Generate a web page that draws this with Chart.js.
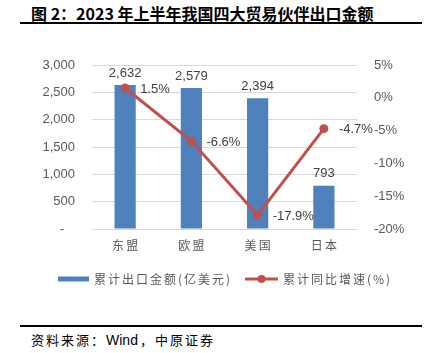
<!DOCTYPE html>
<html lang="zh">
<head>
  <meta charset="UTF-8" />
  <title>2023年上半年我国四大贸易伙伴出口金额</title>
  <script src="https://cdn.jsdelivr.net/npm/chart.js@4.4.0/dist/chart.umd.min.js"></script>
  <style>
    html, body { margin: 0; padding: 0; background: #fff; }
    body { width: 431px; height: 353px; position: relative; overflow: hidden;
      font-family: "Noto Sans CJK SC", "Liberation Sans", sans-serif; }
    .title { position: absolute; left: 31px; top: 3px; font-size: 16px; font-weight: bold;
      color: #000; white-space: nowrap; line-height: 20px; }
    .rule { position: absolute; left: 20px; width: 402px; height: 2px; background: #000; }
    .source { position: absolute; left: 31px; top: 331px; font-size: 13px; color: #000;
      letter-spacing: 2px; white-space: nowrap; line-height: 18px; }
    .source .en { letter-spacing: 0; font-family: "Liberation Sans", Arial, sans-serif; font-size: 14px; margin-right: 2px; }
    .chart-box { position: absolute; left: 0; top: 40px; width: 431px; height: 260px; }
  </style>
</head>
<body>
  <div class="title">图 2：2023 年上半年我国四大贸易伙伴出口金额</div>
  <div class="rule" style="top:22px"></div>
  <div class="chart-box"><canvas id="c"></canvas></div>
  <div class="rule" style="top:325px"></div>
  <div class="source">资料来源：<span class="en">Wind</span>，中原证券</div>

  <script>
    // --- data ------------------------------------------------------
    const partners = ['东盟', '欧盟', '美国', '日本'];
    const exportValue = [2632, 2579, 2394, 793];      // 亿美元
    const yoyGrowth = [1.5, -6.6, -17.9, -4.7];       // %
    const barLabel = '累计出口金额(亿美元)';
    const lineLabel = '累计同比增速(%)';

    const BLUE = '#4F81BD';
    const RED = '#C0504D';
    const GREY = '#595959';
    const CJK = '"Noto Sans CJK SC", sans-serif';

    // value labels on bars and points
    const valueLabels = {
      id: 'valueLabels',
      afterDatasetsDraw(chart) {
        const ctx = chart.ctx;
        ctx.save();
        ctx.font = '13px "Liberation Sans", Arial, sans-serif';
        ctx.fillStyle = '#404040';
        chart.getDatasetMeta(0).data.forEach((el, i) => {
          ctx.textAlign = 'center';
          ctx.textBaseline = 'middle';
          ctx.fillText(exportValue[i].toLocaleString('en-US'), el.x, el.y - 12);
        });
        chart.getDatasetMeta(1).data.forEach((el, i) => {
          ctx.textAlign = 'left';
          ctx.textBaseline = 'middle';
          ctx.fillText(yoyGrowth[i].toFixed(1) + '%', el.x + 15, el.y + 1);
        });
        ctx.restore();
      }
    };

    // legend drawn below the axis
    const bottomLegend = {
      id: 'bottomLegend',
      afterDraw(chart) {
        const ctx = chart.ctx;
        const y = 239;
        ctx.save();
        ctx.font = '12px ' + CJK;
        ctx.letterSpacing = '2px';
        ctx.textBaseline = 'middle';
        ctx.fillStyle = BLUE;
        ctx.fillRect(58, y - 2.5, 31, 5);
        ctx.fillStyle = GREY;
        ctx.fillText(barLabel, 94, y);
        ctx.strokeStyle = RED;
        ctx.lineWidth = 3;
        ctx.beginPath();
        ctx.moveTo(245, y);
        ctx.lineTo(278, y);
        ctx.stroke();
        ctx.fillStyle = RED;
        ctx.beginPath();
        ctx.arc(261.5, y, 4, 0, Math.PI * 2);
        ctx.fill();
        ctx.fillStyle = GREY;
        ctx.fillText(lineLabel, 283, y);
        ctx.restore();
      }
    };

    new Chart(document.getElementById('c'), {
      data: {
        labels: partners,
        datasets: [
          {
            type: 'bar',
            label: barLabel,
            data: exportValue,
            backgroundColor: BLUE,
            barPercentage: 0.32,
            categoryPercentage: 1,
            yAxisID: 'y',
            order: 2
          },
          {
            type: 'line',
            label: lineLabel,
            data: yoyGrowth,
            borderColor: RED,
            backgroundColor: RED,
            borderWidth: 3,
            pointRadius: 4.5,
            pointBackgroundColor: RED,
            pointBorderWidth: 0,
            tension: 0,
            yAxisID: 'y2',
            order: 1
          }
        ]
      },
      options: {
        responsive: true,
        maintainAspectRatio: false,
        animation: false,
        layout: { padding: { top: 25, left: 0, right: 0, bottom: 0 } },
        plugins: { legend: { display: false }, tooltip: { enabled: false } },
        scales: {
          x: {
            grid: { display: false, drawTicks: false },
            border: { display: false },
            ticks: {
              color: GREY, padding: 9,
              font: { family: CJK, size: 12 },
              callback: (v, i) => partners[i].split('').join('\u2009')
            },
            afterFit(scale) { scale.height = 71; }
          },
          y: {
            position: 'left',
            min: 0, max: 3000,
            ticks: {
              stepSize: 500, color: GREY, padding: 17,
              font: { family: '"Liberation Sans", Arial, sans-serif', size: 13 },
              callback: v => v === 0 ? '-   ' : v.toLocaleString('en-US')
            },
            grid: { color: '#D9D9D9', drawTicks: false },
            border: { display: false },
            afterFit(scale) { scale.width = 92; }
          },
          y2: {
            position: 'right',
            min: -20, max: 5,
            ticks: {
              stepSize: 5, color: GREY, padding: 17,
              font: { family: '"Liberation Sans", Arial, sans-serif', size: 13 },
              callback: v => v + '%'
            },
            grid: { display: false, drawTicks: false },
            border: { display: false },
            afterFit(scale) { scale.width = 74; }
          }
        }
      },
      plugins: [valueLabels, bottomLegend]
    });
  </script>
</body>
</html>
